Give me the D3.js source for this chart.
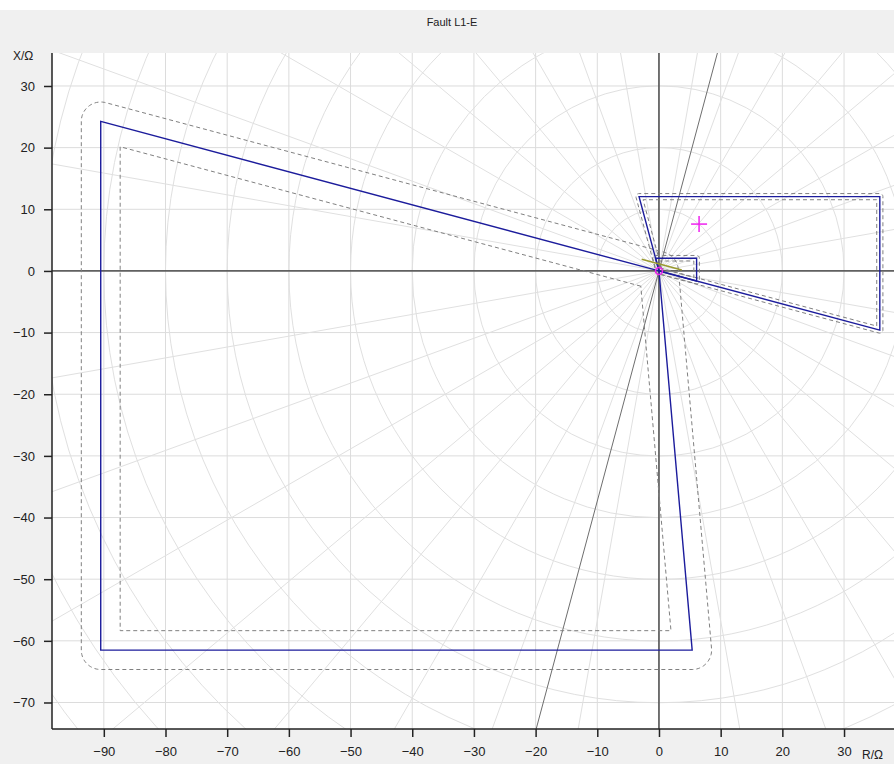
<!DOCTYPE html>
<html>
<head>
<meta charset="utf-8">
<script src="https://cdn.jsdelivr.net/npm/d3@7"></script>
<style>
  html, body { margin: 0; padding: 0; background: #ffffff; }
  svg { display: block; }
  text { font-family: "Liberation Sans", Arial, sans-serif; }
</style>
</head>
<body>
<svg id="chart" width="894" height="764"></svg>
<script>
// ---------------- data ----------------
const title = "Fault L1-E";
const xLabel = "R/Ω";
const yLabel = "X/Ω";
const xDomain = [-98.4, 38.1];
const yDomain = [-74.3, 35.35];
const xTicks = [-90, -80, -70, -60, -50, -40, -30, -20, -10, 0, 10, 20, 30];
const yTicks = [-70, -60, -50, -40, -30, -20, -10, 0, 10, 20, 30];
const gridCircleRadii = [10, 20, 30, 40, 50, 60, 70, 80, 90, 100, 110, 120, 130];
const gridRayAngles = d3.range(0, 360, 10);
const lineAngleDeg = 75;
// zone polygons (R, X) in Ω
const zoneBig = [[0, 0], [-90.5, 24.25], [-90.5, -61.5], [5.38, -61.5]];
const zoneRight = [[0, 0], [-3.23, 12.05], [35.8, 12.05], [35.8, -9.59]];
const zoneSmall = [[0, 0], [-0.55, 2.06], [6.1, 2.06], [6.1, -1.63]];
const zoneTolerance = [3.15, 0.5, 0.45];
const faultPoint = [6.5, 7.6];
const loadSegment = [[-2.8, 1.9], [3.7, 0.15]];
const originMarker = [0, 0];

// ---------------- layout ----------------
const W = 894, H = 764;
const plot = { left: 52, top: 53, right: 894, bottom: 729 };
const svg = d3.select("#chart");

svg.append("rect").attr("x", 0).attr("y", 10).attr("width", W).attr("height", H - 10).attr("fill", "#f0f0f0");
svg.append("rect").attr("x", plot.left).attr("y", plot.top)
  .attr("width", plot.right - plot.left).attr("height", plot.bottom - plot.top).attr("fill", "#ffffff");

svg.append("text").attr("x", 452).attr("y", 26).attr("text-anchor", "middle")
  .attr("font-size", 11).attr("fill", "#222").text(title);

const x = d3.scaleLinear().domain(xDomain).range([plot.left, plot.right]);
const y = d3.scaleLinear().domain(yDomain).range([plot.bottom, plot.top]);
const pxPerUnit = x(1) - x(0);

svg.append("clipPath").attr("id", "clip").append("rect")
  .attr("x", plot.left).attr("y", plot.top)
  .attr("width", plot.right - plot.left).attr("height", plot.bottom - plot.top);
const g = svg.append("g").attr("clip-path", "url(#clip)");

// cartesian grid
g.selectAll("line.gx").data(d3.range(-100, 50, 10)).join("line")
  .attr("x1", d => x(d)).attr("x2", d => x(d)).attr("y1", plot.top).attr("y2", plot.bottom)
  .attr("stroke", "#dcdcdc").attr("stroke-width", 1);
g.selectAll("line.gy").data(d3.range(-80, 50, 10)).join("line")
  .attr("y1", d => y(d)).attr("y2", d => y(d)).attr("x1", plot.left).attr("x2", plot.right)
  .attr("stroke", "#dcdcdc").attr("stroke-width", 1);

// polar grid
g.selectAll("circle.pc").data(gridCircleRadii).join("circle")
  .attr("cx", x(0)).attr("cy", y(0)).attr("r", d => d * pxPerUnit)
  .attr("fill", "none").attr("stroke", "#e0e0e0").attr("stroke-width", 1);
g.selectAll("line.pr").data(gridRayAngles).join("line")
  .attr("x1", x(0)).attr("y1", y(0))
  .attr("x2", d => x(200 * Math.cos(d * Math.PI / 180)))
  .attr("y2", d => y(200 * Math.sin(d * Math.PI / 180)))
  .attr("stroke", "#e0e0e0").attr("stroke-width", 1);

// axes through origin
g.append("line").attr("x1", plot.left).attr("x2", plot.right).attr("y1", y(0)).attr("y2", y(0))
  .attr("stroke", "#000").attr("stroke-width", 1);
g.append("line").attr("x1", x(0)).attr("x2", x(0)).attr("y1", plot.top).attr("y2", plot.bottom)
  .attr("stroke", "#000").attr("stroke-width", 1);

// line angle
const la = lineAngleDeg * Math.PI / 180;
g.append("line")
  .attr("x1", x(-150 * Math.cos(la))).attr("y1", y(-150 * Math.sin(la)))
  .attr("x2", x(150 * Math.cos(la))).attr("y2", y(150 * Math.sin(la)))
  .attr("stroke", "#6e6e6e").attr("stroke-width", 1);

// ---------- polygon offset helpers ----------
function signedArea(p) {
  let a = 0;
  for (let i = 0; i < p.length; i++) {
    const q = p[i], r = p[(i + 1) % p.length];
    a += q[0] * r[1] - r[0] * q[1];
  }
  return a / 2;
}
function normals(p) {
  const ccw = signedArea(p) > 0;
  return p.map((q, i) => {
    const r = p[(i + 1) % p.length];
    let dx = r[0] - q[0], dy = r[1] - q[1];
    const L = Math.hypot(dx, dy); dx /= L; dy /= L;
    return ccw ? [dy, -dx] : [-dy, dx];
  });
}
function outerRound(p, d) {
  const n = normals(p), out = [], N = p.length;
  for (let i = 0; i < N; i++) {
    const nin = n[(i - 1 + N) % N], nout = n[i];
    const a0 = Math.atan2(nin[1], nin[0]);
    let da = Math.atan2(nout[1], nout[0]) - a0;
    while (da <= -Math.PI) da += 2 * Math.PI;
    while (da > Math.PI) da -= 2 * Math.PI;
    const steps = Math.max(2, Math.ceil(Math.abs(da) / 0.08));
    for (let k = 0; k <= steps; k++) {
      const a = a0 + da * k / steps;
      out.push([p[i][0] + d * Math.cos(a), p[i][1] + d * Math.sin(a)]);
    }
  }
  return out;
}
function innerMiter(p, d) {
  const n = normals(p), N = p.length, out = [];
  for (let i = 0; i < N; i++) {
    const j = (i - 1 + N) % N;
    const p1 = [p[j][0] - d * n[j][0], p[j][1] - d * n[j][1]];
    const v1 = [p[i][0] - p[j][0], p[i][1] - p[j][1]];
    const p2 = [p[i][0] - d * n[i][0], p[i][1] - d * n[i][1]];
    const k = (i + 1) % N;
    const v2 = [p[k][0] - p[i][0], p[k][1] - p[i][1]];
    const den = v1[0] * v2[1] - v1[1] * v2[0];
    const t = ((p2[0] - p1[0]) * v2[1] - (p2[1] - p1[1]) * v2[0]) / den;
    out.push([p1[0] + t * v1[0], p1[1] + t * v1[1]]);
  }
  return out;
}

const path = d3.line().x(d => x(d[0])).y(d => y(d[1])).curve(d3.curveLinearClosed);
const zones = [zoneBig, zoneRight, zoneSmall];

zones.forEach((z, i) => {
  const d = zoneTolerance[i];
  [outerRound(z, d), innerMiter(z, d)].forEach(pp => {
    g.append("path").attr("d", path(pp)).attr("fill", "none")
      .attr("stroke", "#808080").attr("stroke-width", 1).attr("stroke-dasharray", "4,3");
  });
});
zones.forEach(z => {
  g.append("path").attr("d", path(z)).attr("fill", "none")
    .attr("stroke", "#1c1c9c").attr("stroke-width", 1.4);
});

// load / fault markers
g.append("line")
  .attr("x1", x(loadSegment[0][0])).attr("y1", y(loadSegment[0][1]))
  .attr("x2", x(loadSegment[1][0])).attr("y2", y(loadSegment[1][1]))
  .attr("stroke", "#9a9a30").attr("stroke-width", 1.5);
g.append("circle").attr("cx", x(originMarker[0])).attr("cy", y(originMarker[1])).attr("r", 3.5)
  .attr("fill", "none").attr("stroke", "#ee22ee").attr("stroke-width", 1.5);
const fx = x(faultPoint[0]), fy = y(faultPoint[1]);
g.append("line").attr("x1", fx - 8).attr("x2", fx + 8).attr("y1", fy).attr("y2", fy)
  .attr("stroke", "#ee22ee").attr("stroke-width", 1.5);
g.append("line").attr("x1", fx).attr("x2", fx).attr("y1", fy - 8).attr("y2", fy + 8)
  .attr("stroke", "#ee22ee").attr("stroke-width", 1.5);

// axes
const ax = svg.append("g").attr("transform", `translate(0,${plot.bottom})`)
  .call(d3.axisBottom(x).tickValues(xTicks).tickSize(8).tickPadding(10).tickSizeOuter(0));
const ay = svg.append("g").attr("transform", `translate(${plot.left},0)`)
  .call(d3.axisLeft(y).tickValues(yTicks).tickSize(8).tickPadding(9).tickSizeOuter(0));
[ax, ay].forEach(a => {
  a.select(".domain").attr("stroke", "#222").attr("stroke-width", 1.5);
  a.selectAll(".tick line").attr("stroke", "#222").attr("stroke-width", 1.5);
  a.selectAll(".tick text").attr("fill", "#222").attr("font-size", 13)
    .attr("font-family", "'Liberation Sans', Arial, sans-serif");
});
ax.select(".domain").attr("d", `M${plot.left},0H${plot.right}`);
ay.select(".domain").attr("d", `M0,${plot.top}V${plot.bottom}`);

svg.append("text").attr("x", 13).attr("y", 60).attr("font-size", 12).attr("fill", "#222").text(yLabel);
svg.append("text").attr("x", 862).attr("y", 759).attr("font-size", 12).attr("fill", "#222").text(xLabel);
</script>
</body>
</html>
